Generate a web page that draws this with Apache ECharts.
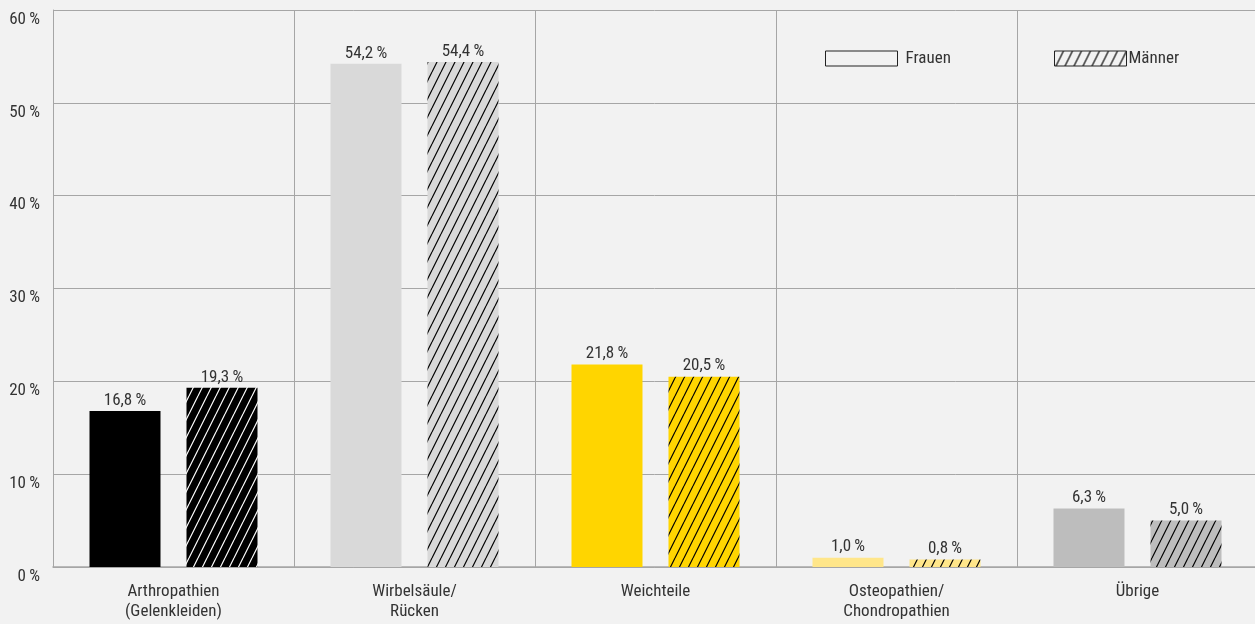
<!DOCTYPE html>
<html><head><meta charset="utf-8">
<script src="https://cdn.jsdelivr.net/npm/echarts@6/dist/echarts.min.js"></script>
<style>html,body{margin:0;padding:0;background:#f2f2f2}#c{width:1255px;height:624px}</style>
</head><body><div id="c"></div>
<script>
const categories = ['Arthropathien\n(Gelenkleiden)', 'Wirbelsäule/\nRücken', 'Weichteile', 'Osteopathien/\nChondropathien', 'Übrige'];
const frauen = [16.8, 54.2, 21.8, 1.0, 6.3];
const maenner = [19.3, 54.4, 20.5, 0.8, 5.0];
const barColors = ['#000000', '#d9d9d9', '#ffd500', '#ffe68a', '#bdbdbd'];
const hatchColors = ['#ffffff', '#000000', '#000000', '#000000', '#000000'];

const FONT = "'Roboto Condensed','Liberation Sans Narrow','DejaVu Sans Condensed',sans-serif";

function hatch(bg, line) {
  const c = document.createElement('canvas');
  c.width = 9; c.height = 18;
  const g = c.getContext('2d');
  if (bg) { g.fillStyle = bg; g.fillRect(0, 0, 9, 18); }
  g.strokeStyle = line; g.lineWidth = 1.2;
  g.beginPath();
  for (const k of [-1, 0, 1]) {
    g.moveTo(0 + 9 * k, 18); g.lineTo(9 + 9 * k, 0);
  }
  g.stroke();
  return { image: c, repeat: 'repeat' };
}
const fmt = v => String(v.toFixed(1)).replace('.', ',') + '\u2009%';

const chart = echarts.init(document.getElementById('c'), null, { renderer: 'canvas' });
chart.setOption({
  backgroundColor: '#f2f2f2',
  animation: false,
  textStyle: { fontFamily: FONT },
  grid: { left: 53, width: 1205, top: 10, bottom: 57, outerBoundsMode: 'none', containLabel: false },
  legend: [
    { left: 825, top: 50, padding: 0, itemWidth: 72, itemHeight: 15, itemGap: 0,
      textStyle: { fontFamily: FONT, fontSize: 17, color: '#333', padding: [0, 0, 0, 3] },
      data: [{ name: 'Frauen', icon: 'rect', itemStyle: { color: '#f2f2f2', borderColor: '#222', borderWidth: 1 } }] },
    { left: 1054, top: 50, padding: 0, itemWidth: 72, itemHeight: 15, itemGap: 0,
      textStyle: { fontFamily: FONT, fontSize: 17, color: '#333', padding: [0, 0, 0, -3] },
      data: [{ name: 'Männer', icon: 'rect', itemStyle: { color: hatch('#f2f2f2', '#000'), borderColor: '#222', borderWidth: 1 } }] }
  ],
  xAxis: {
    type: 'category', data: categories,
    axisTick: { show: false },
    axisLine: { lineStyle: { color: '#a6a6a6', width: 1.5 } },
    splitLine: { show: true, lineStyle: { color: '#a6a6a6', width: 1 } },
    axisLabel: { fontFamily: FONT, fontSize: 17, color: '#333', lineHeight: 20, margin: 15 }
  },
  yAxis: {
    type: 'value', min: 0, max: 60, interval: 10,
    axisLine: { show: true, lineStyle: { color: '#a6a6a6' } },
    axisTick: { show: false },
    splitLine: { lineStyle: { color: '#a6a6a6', width: 1 } },
    axisLabel: { fontFamily: FONT, fontSize: 17, color: '#333', margin: 13, verticalAlign: 'top', padding: [1, 0, 0, 0],
      formatter: v => v + '\u2009%' }
  },
  series: [
    { name: 'Frauen', type: 'bar', barWidth: 71, barGap: '36.6%',
      data: frauen.map((v, i) => ({ value: v, itemStyle: { color: barColors[i] } })),
      label: { show: true, position: 'top', distance: 2, fontFamily: FONT, fontSize: 17, color: '#333',
        formatter: p => fmt(p.value) } },
    { name: 'Männer', type: 'bar', barWidth: 71,
      data: maenner.map((v, i) => ({ value: v, itemStyle: { color: hatch(barColors[i], hatchColors[i]) } })),
      label: { show: true, position: 'top', distance: 2, fontFamily: FONT, fontSize: 17, color: '#333',
        formatter: p => fmt(p.value) } }
  ]
});
</script></body></html>
